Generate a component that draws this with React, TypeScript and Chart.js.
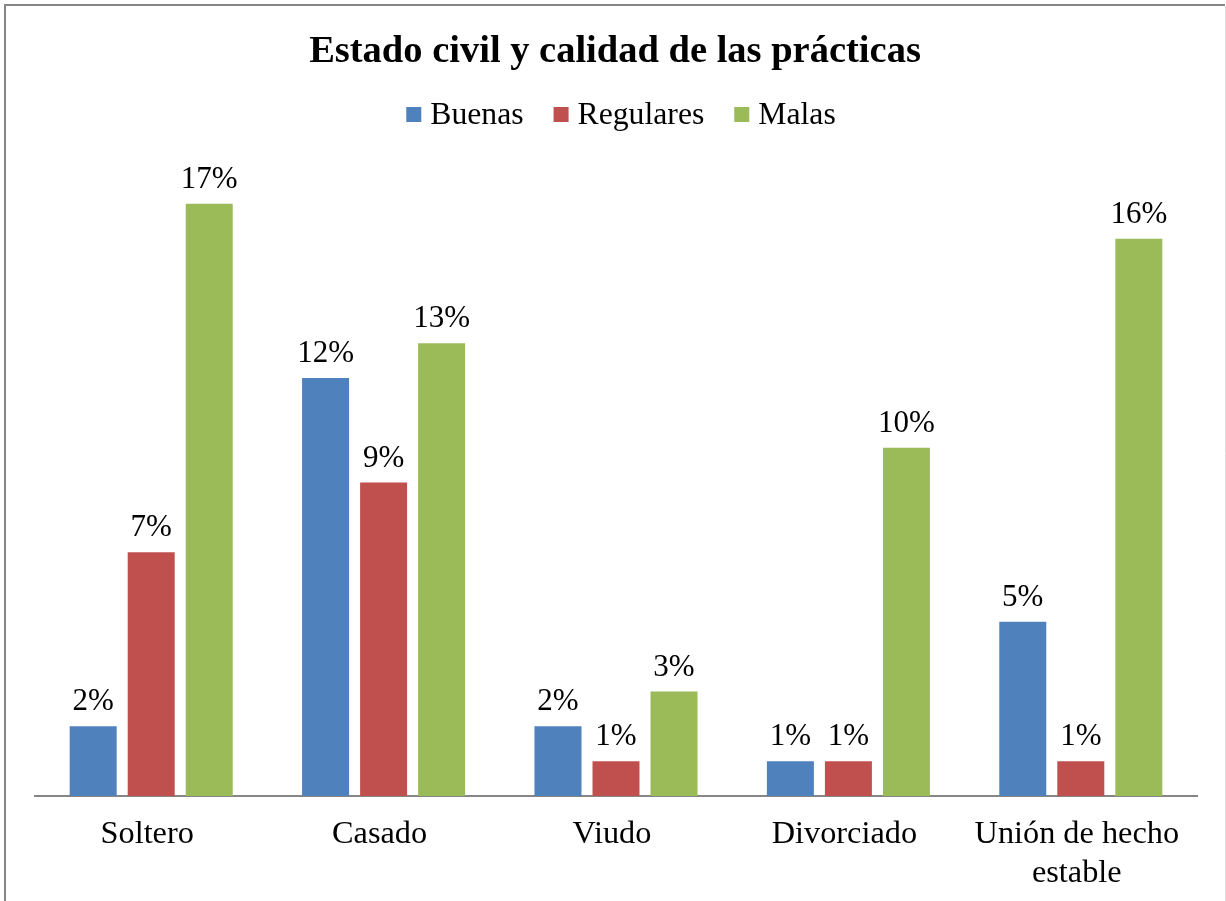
import React, { useEffect, useRef } from "react";
import { Chart, registerables } from "chart.js";

Chart.register(...registerables);

const categories: (string | string[])[] = ["Soltero", "Casado", "Viudo", "Divorciado", ["Unión de hecho", "estable"]];
const seriesNames = ["Buenas", "Regulares", "Malas"];
const buenas = [2, 12, 2, 1, 5];
const regulares = [7, 9, 1, 1, 1];
const malas = [17, 13, 3, 10, 16];
const seriesColors = ["#4F81BD", "#C0504D", "#9BBB59"];
const chartTitle = "Estado civil y calidad de las prácticas";
const yMax = 18;

const FONT = "'Liberation Serif', 'Times New Roman', serif";
const W = 1226;
const H = 901;

const framePlugin = {
  id: "frame",
  beforeDraw(chart: any) {
    const ctx = chart.ctx;
    ctx.save();
    ctx.fillStyle = "#ffffff";
    ctx.fillRect(0, 0, W, H);
    ctx.strokeStyle = "#868686";
    ctx.lineWidth = 2;
    ctx.beginPath();
    ctx.moveTo(4, 5);
    ctx.lineTo(1225, 5);
    ctx.moveTo(5, 5);
    ctx.lineTo(5, H);
    ctx.stroke();
    ctx.strokeStyle = "#dcdcdc";
    ctx.lineWidth = 1;
    ctx.beginPath();
    ctx.moveTo(1225.5, 6);
    ctx.lineTo(1225.5, H);
    ctx.stroke();
    ctx.restore();
  },
};

const headerPlugin = {
  id: "header",
  afterDraw(chart: any) {
    const ctx = chart.ctx;
    ctx.save();
    // title
    ctx.fillStyle = "#000000";
    ctx.font = `bold 38.5px ${FONT}`;
    ctx.textAlign = "center";
    ctx.textBaseline = "alphabetic";
    ctx.fillText(chartTitle, 615, 62);
    // legend
    ctx.font = `31.7px ${FONT}`;
    ctx.textAlign = "left";
    const box = 15;
    const gapBoxText = 9;
    const gapItems = 30;
    const widths = seriesNames.map((n) => ctx.measureText(n).width);
    const total = widths.reduce((a, w) => a + box + gapBoxText + w, 0) + gapItems * (seriesNames.length - 1);
    let x = 621 - total / 2;
    const baseline = 124;
    seriesNames.forEach((n, i) => {
      ctx.fillStyle = seriesColors[i];
      ctx.fillRect(x, 107, box, box);
      ctx.fillStyle = "#000000";
      ctx.fillText(n, x + box + gapBoxText, baseline);
      x += box + gapBoxText + widths[i] + gapItems;
    });
    ctx.restore();
  },
};

const valueLabelPlugin = {
  id: "valueLabels",
  afterDatasetsDraw(chart: any) {
    const ctx = chart.ctx;
    ctx.save();
    ctx.font = `31px ${FONT}`;
    ctx.fillStyle = "#000000";
    ctx.textAlign = "center";
    ctx.textBaseline = "alphabetic";
    chart.data.datasets.forEach((ds: any, di: number) => {
      const meta = chart.getDatasetMeta(di);
      meta.data.forEach((el: any, i: number) => {
        ctx.fillText(`${ds.data[i]}%`, el.x, el.y - 16);
      });
    });
    ctx.restore();
  },
};

export default function App() {
  const ref = useRef<HTMLCanvasElement | null>(null);

  useEffect(() => {
    if (!ref.current) return;
    const seriesData = [buenas, regulares, malas];
    const chart = new Chart(ref.current, {
      type: "bar",
      data: {
        labels: categories,
        datasets: seriesNames.map((name, i) => ({
          label: name,
          data: seriesData[i],
          backgroundColor: seriesColors[i],
          borderWidth: 0,
          categoryPercentage: 0.749,
          barPercentage: 0.81,
        })),
      },
      options: {
        responsive: false,
        animation: false,
        layout: { padding: { left: 35, right: 29, top: 169, bottom: 0 } },
        plugins: {
          legend: { display: false },
          title: { display: false },
          tooltip: { enabled: false },
        },
        scales: {
          x: {
            grid: { display: false, drawTicks: false },
            border: { display: true, color: "#868686", width: 2 },
            ticks: {
              color: "#000000",
              font: { family: FONT, size: 32.3 },
              padding: 19,
              labelOffset: -4,
              maxRotation: 0,
              autoSkip: false,
            },
            afterFit: (s: any) => {
              s.height = 105;
            },
          },
          y: { display: false, min: 0, max: yMax },
        },
      },
      plugins: [framePlugin, headerPlugin, valueLabelPlugin],
    });
    return () => chart.destroy();
  }, []);

  return (
    <div style={{ position: "absolute", left: 0, top: 0, width: W, height: H }}>
      <canvas ref={ref} width={W} height={H} style={{ display: "block", width: W, height: H }} />
    </div>
  );
}
